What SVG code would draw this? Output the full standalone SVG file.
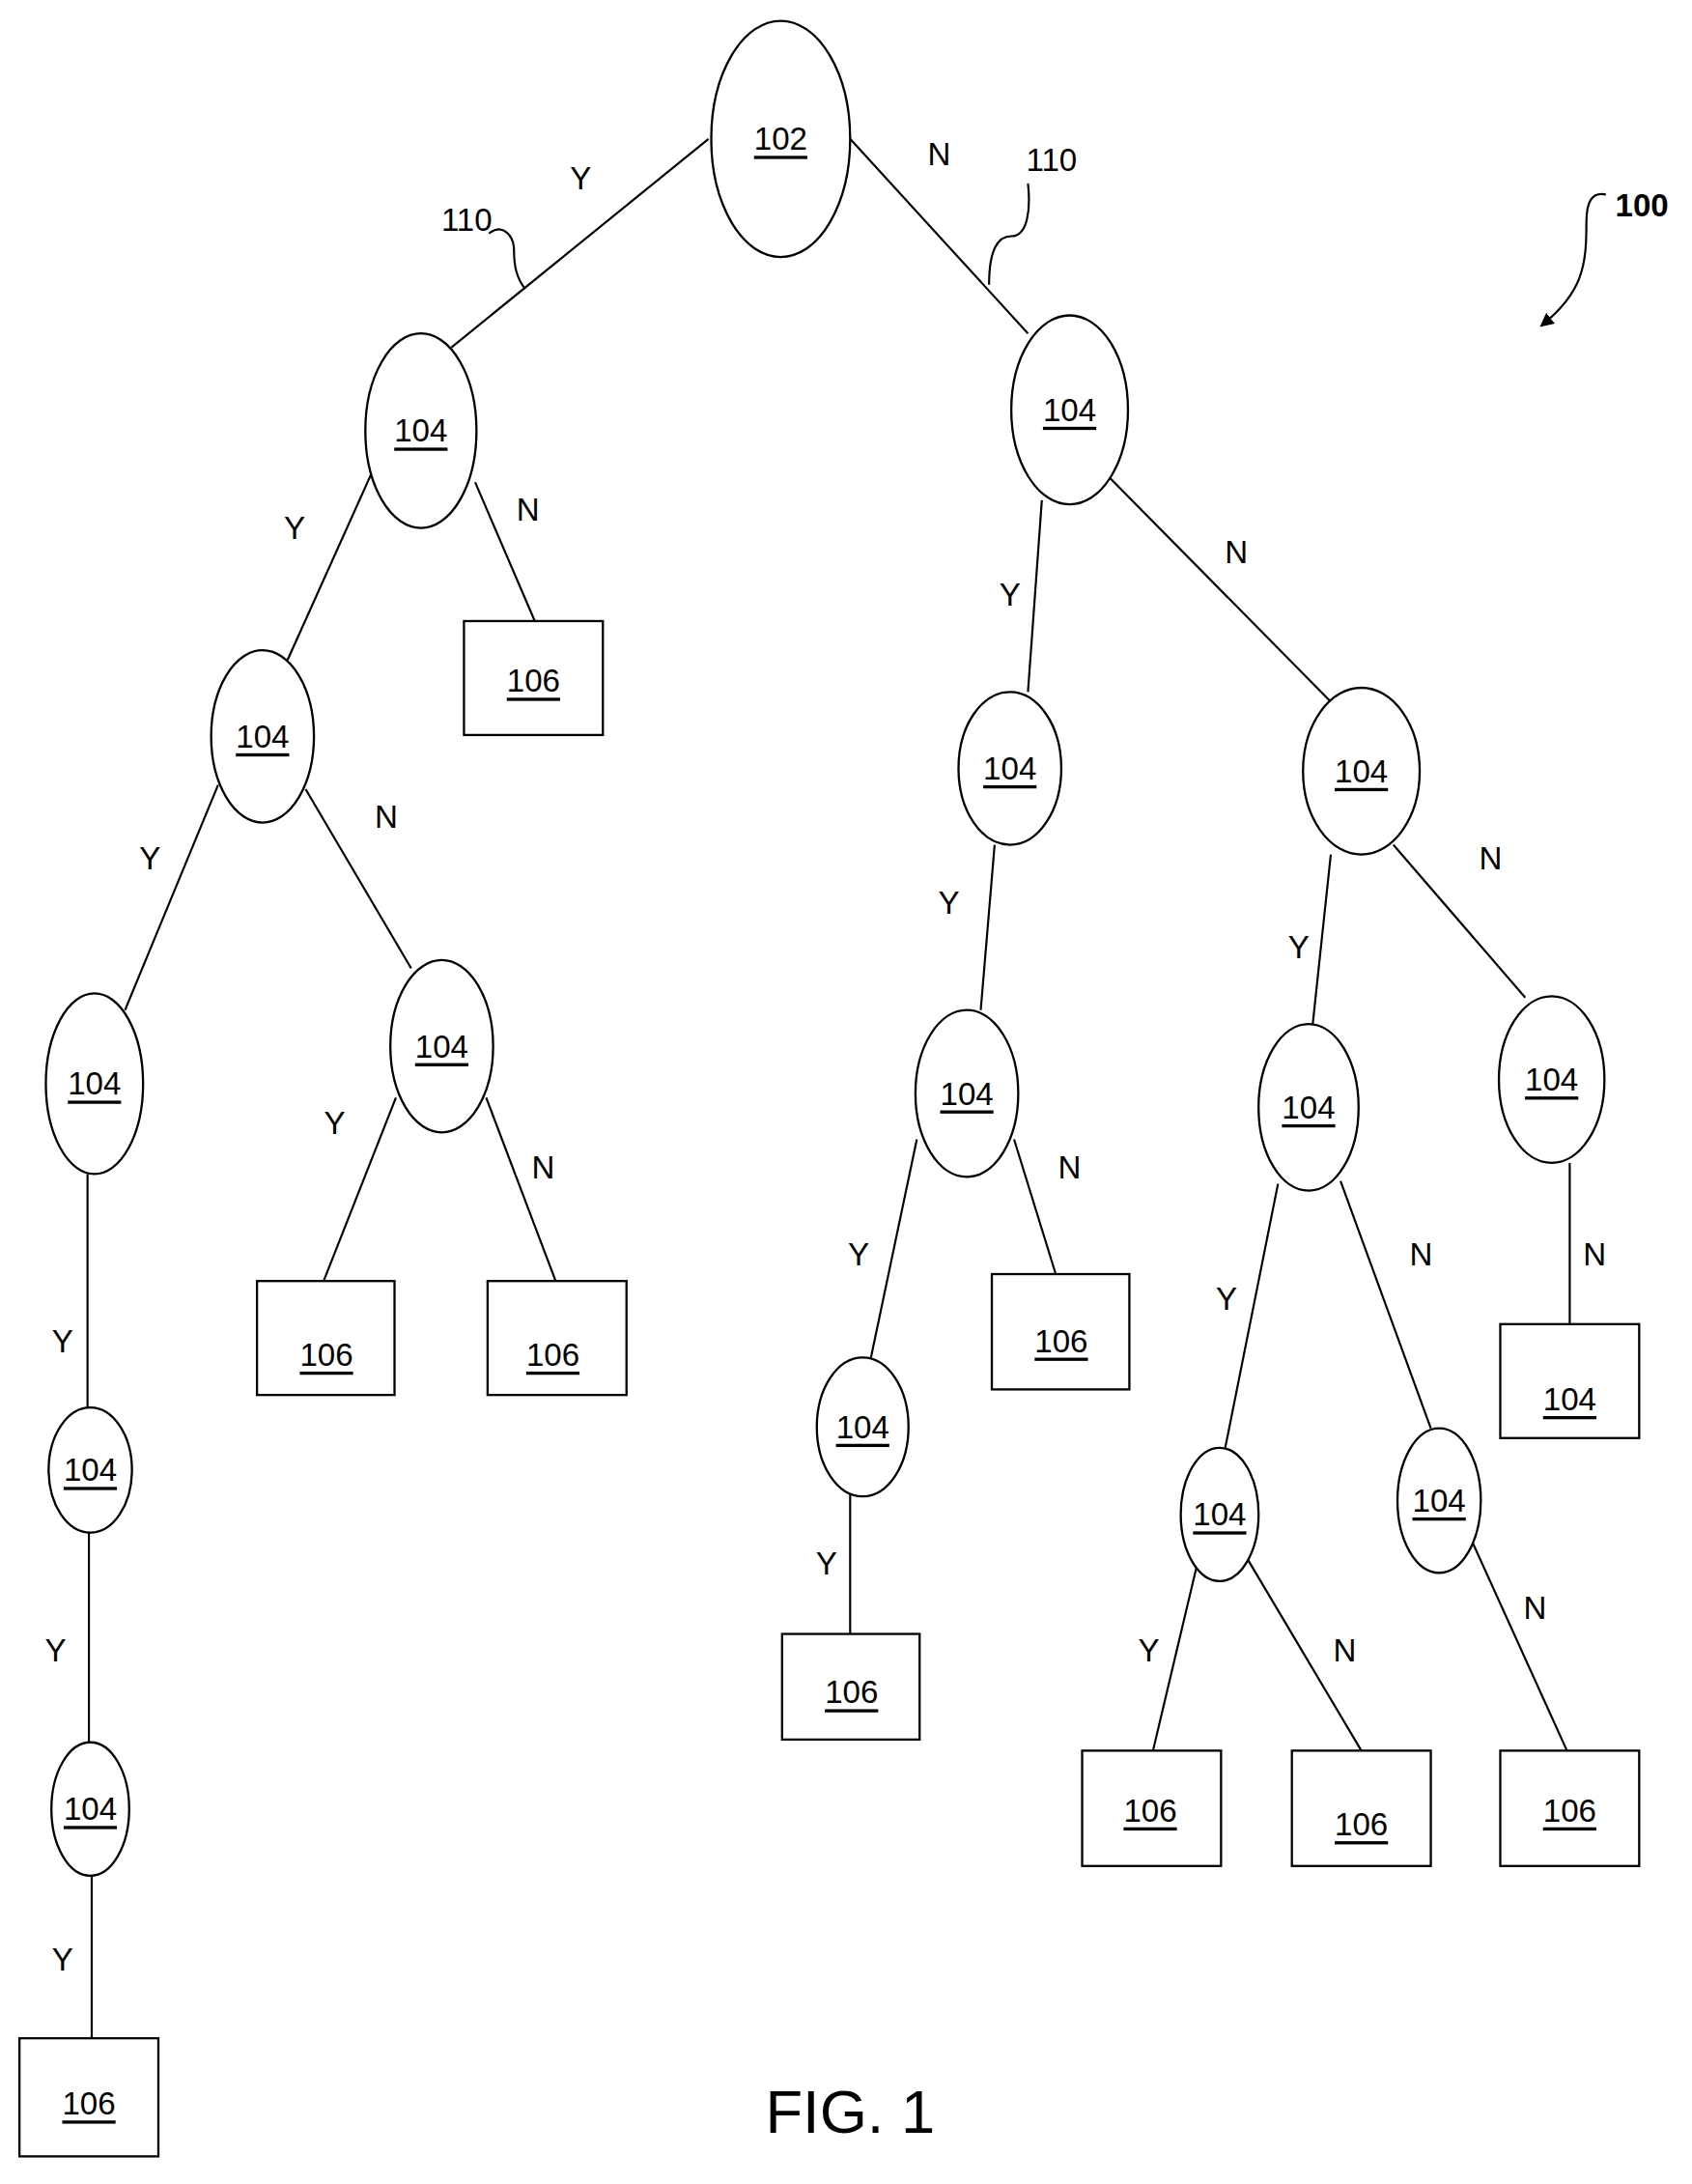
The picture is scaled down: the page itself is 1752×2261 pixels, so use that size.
<svg xmlns="http://www.w3.org/2000/svg" width="1752" height="2261" viewBox="0 0 1752 2261">
<defs>
<style>
.n{fill:#fff;stroke:#000;stroke-width:1.6}
.t{font-family:"Liberation Sans",Arial,sans-serif;font-size:23px;text-anchor:middle;dominant-baseline:central;text-decoration:underline}
.l{font-family:"Liberation Sans",Arial,sans-serif;font-size:23px;text-anchor:middle;dominant-baseline:central}
.e{stroke:#000;stroke-width:1.5;fill:none}
</style>
<marker id="ah" markerWidth="10" markerHeight="10" refX="8" refY="5" orient="auto" markerUnits="userSpaceOnUse"><path d="M0,0 L10,5 L0,10 z" fill="#000"/></marker>
</defs>
<rect width="1752" height="2261" fill="#fff"/>
<g transform="scale(1.4384)">
<g id="connectors">
<line class="e" x1="510" y1="100" x2="325" y2="250"/>
<line class="e" x1="612" y1="100" x2="740" y2="240"/>
<line class="e" x1="270" y1="335" x2="207" y2="475"/>
<line class="e" x1="342" y1="347" x2="385" y2="447"/>
<line class="e" x1="157" y1="565" x2="90" y2="727"/>
<line class="e" x1="220" y1="568" x2="296" y2="697"/>
<line class="e" x1="285" y1="790" x2="233" y2="922"/>
<line class="e" x1="350" y1="790" x2="400" y2="922"/>
<line class="e" x1="63" y1="845" x2="63" y2="1013"/>
<line class="e" x1="64" y1="1103" x2="64" y2="1254"/>
<line class="e" x1="66" y1="1350" x2="66" y2="1467"/>
<line class="e" x1="750" y1="360" x2="740" y2="498"/>
<line class="e" x1="795" y1="340" x2="958" y2="505"/>
<line class="e" x1="716" y1="608" x2="706" y2="727"/>
<line class="e" x1="958" y1="615" x2="945" y2="737"/>
<line class="e" x1="1003" y1="608" x2="1098" y2="718"/>
<line class="e" x1="660" y1="820" x2="627" y2="977"/>
<line class="e" x1="730" y1="820" x2="760" y2="917"/>
<line class="e" x1="612" y1="1075" x2="612" y2="1176"/>
<line class="e" x1="920" y1="852" x2="882" y2="1042"/>
<line class="e" x1="965" y1="850" x2="1030" y2="1028"/>
<line class="e" x1="1130" y1="837" x2="1130" y2="953"/>
<line class="e" x1="862" y1="1125" x2="830" y2="1260"/>
<line class="e" x1="898" y1="1122" x2="980" y2="1260"/>
<line class="e" x1="1060" y1="1110" x2="1128" y2="1260"/>
<path class="e" d="M352,168 C362,160 370,170 370,180 C370,192 372,200 378,208"/>
<path class="e" d="M740,132 C742,150 740,170 728,170 C716,170 712,185 712,205"/>
<path class="e" d="M1156,140 C1146,138 1142,145 1142,160 C1142,190 1140,210 1110,234" marker-end="url(#ah)"/>
</g>
<g id="labels">
<text class="l" x="418" y="128">Y</text><text class="l" x="676" y="111">N</text>
<text class="l" x="212" y="380">Y</text><text class="l" x="380" y="367">N</text>
<text class="l" x="108" y="618">Y</text><text class="l" x="278" y="588">N</text>
<text class="l" x="241" y="808">Y</text><text class="l" x="391" y="840">N</text>
<text class="l" x="45" y="965">Y</text><text class="l" x="40" y="1188">Y</text><text class="l" x="45" y="1410">Y</text>
<text class="l" x="727" y="428">Y</text><text class="l" x="890" y="397">N</text>
<text class="l" x="683" y="650">Y</text><text class="l" x="935" y="682">Y</text><text class="l" x="1073" y="618">N</text>
<text class="l" x="618" y="903">Y</text><text class="l" x="770" y="840">N</text>
<text class="l" x="595" y="1125">Y</text>
<text class="l" x="883" y="935">Y</text><text class="l" x="1023" y="903">N</text><text class="l" x="1148" y="903">N</text>
<text class="l" x="827" y="1188">Y</text><text class="l" x="968" y="1188">N</text><text class="l" x="1105" y="1157">N</text>
<text class="l" x="336" y="158">110</text><text class="l" x="757" y="115">110</text>
<text class="l" x="1182" y="148" style="font-weight:bold">100</text>
<text class="l" x="612" y="1520" style="font-size:44px">FIG. 1</text>
</g>
<g id="n102"><ellipse class="n" cx="562" cy="100" rx="50" ry="85"/><text class="t" x="562" y="100">102</text></g>
<g id="n104a"><ellipse class="n" cx="303" cy="310" rx="40" ry="70"/><text class="t" x="303" y="310">104</text></g>
<g id="n104b"><ellipse class="n" cx="770" cy="295" rx="42" ry="68"/><text class="t" x="770" y="295">104</text></g>
<g id="n104c"><ellipse class="n" cx="189" cy="530" rx="37" ry="62"/><text class="t" x="189" y="530">104</text></g>
<g id="n104d"><ellipse class="n" cx="318" cy="753" rx="37" ry="62"/><text class="t" x="318" y="753">104</text></g>
<g id="n104e"><ellipse class="n" cx="68" cy="780" rx="35" ry="65"/><text class="t" x="68" y="780">104</text></g>
<g id="n104f"><ellipse class="n" cx="65" cy="1058" rx="30" ry="45"/><text class="t" x="65" y="1058">104</text></g>
<g id="n104g"><ellipse class="n" cx="65" cy="1302" rx="28" ry="48"/><text class="t" x="65" y="1302">104</text></g>
<g id="n104h"><ellipse class="n" cx="727" cy="553" rx="37" ry="55"/><text class="t" x="727" y="553">104</text></g>
<g id="n104i"><ellipse class="n" cx="980" cy="555" rx="42" ry="60"/><text class="t" x="980" y="555">104</text></g>
<g id="n104j"><ellipse class="n" cx="696" cy="787" rx="37" ry="60"/><text class="t" x="696" y="787">104</text></g>
<g id="n104k"><ellipse class="n" cx="942" cy="797" rx="36" ry="60"/><text class="t" x="942" y="797">104</text></g>
<g id="n104l"><ellipse class="n" cx="1117" cy="777" rx="38" ry="60"/><text class="t" x="1117" y="777">104</text></g>
<g id="n104m"><ellipse class="n" cx="621" cy="1027" rx="33" ry="50"/><text class="t" x="621" y="1027">104</text></g>
<g id="n104n"><ellipse class="n" cx="878" cy="1090" rx="28" ry="48"/><text class="t" x="878" y="1090">104</text></g>
<g id="n104o"><ellipse class="n" cx="1036" cy="1080" rx="30" ry="52"/><text class="t" x="1036" y="1080">104</text></g>
<g id="r1"><rect class="n" x="334" y="447" width="100" height="82"/><text class="t" x="384" y="490">106</text></g>
<g id="r2"><rect class="n" x="185" y="922" width="99" height="82"/><text class="t" x="235" y="975">106</text></g>
<g id="r3"><rect class="n" x="351" y="922" width="100" height="82"/><text class="t" x="398" y="975">106</text></g>
<g id="r4"><rect class="n" x="14" y="1467" width="100" height="85"/><text class="t" x="64" y="1514">106</text></g>
<g id="r5"><rect class="n" x="714" y="917" width="99" height="83"/><text class="t" x="764" y="965">106</text></g>
<g id="r6"><rect class="n" x="563" y="1176" width="99" height="76"/><text class="t" x="613" y="1218">106</text></g>
<g id="r7"><rect class="n" x="779" y="1260" width="100" height="83"/><text class="t" x="828" y="1303">106</text></g>
<g id="r8"><rect class="n" x="930" y="1260" width="100" height="83"/><text class="t" x="980" y="1313">106</text></g>
<g id="r9"><rect class="n" x="1080" y="1260" width="100" height="83"/><text class="t" x="1130" y="1303">106</text></g>
<g id="r10"><rect class="n" x="1080" y="953" width="100" height="82"/><text class="t" x="1130" y="1007">104</text></g>
</g>
</svg>
